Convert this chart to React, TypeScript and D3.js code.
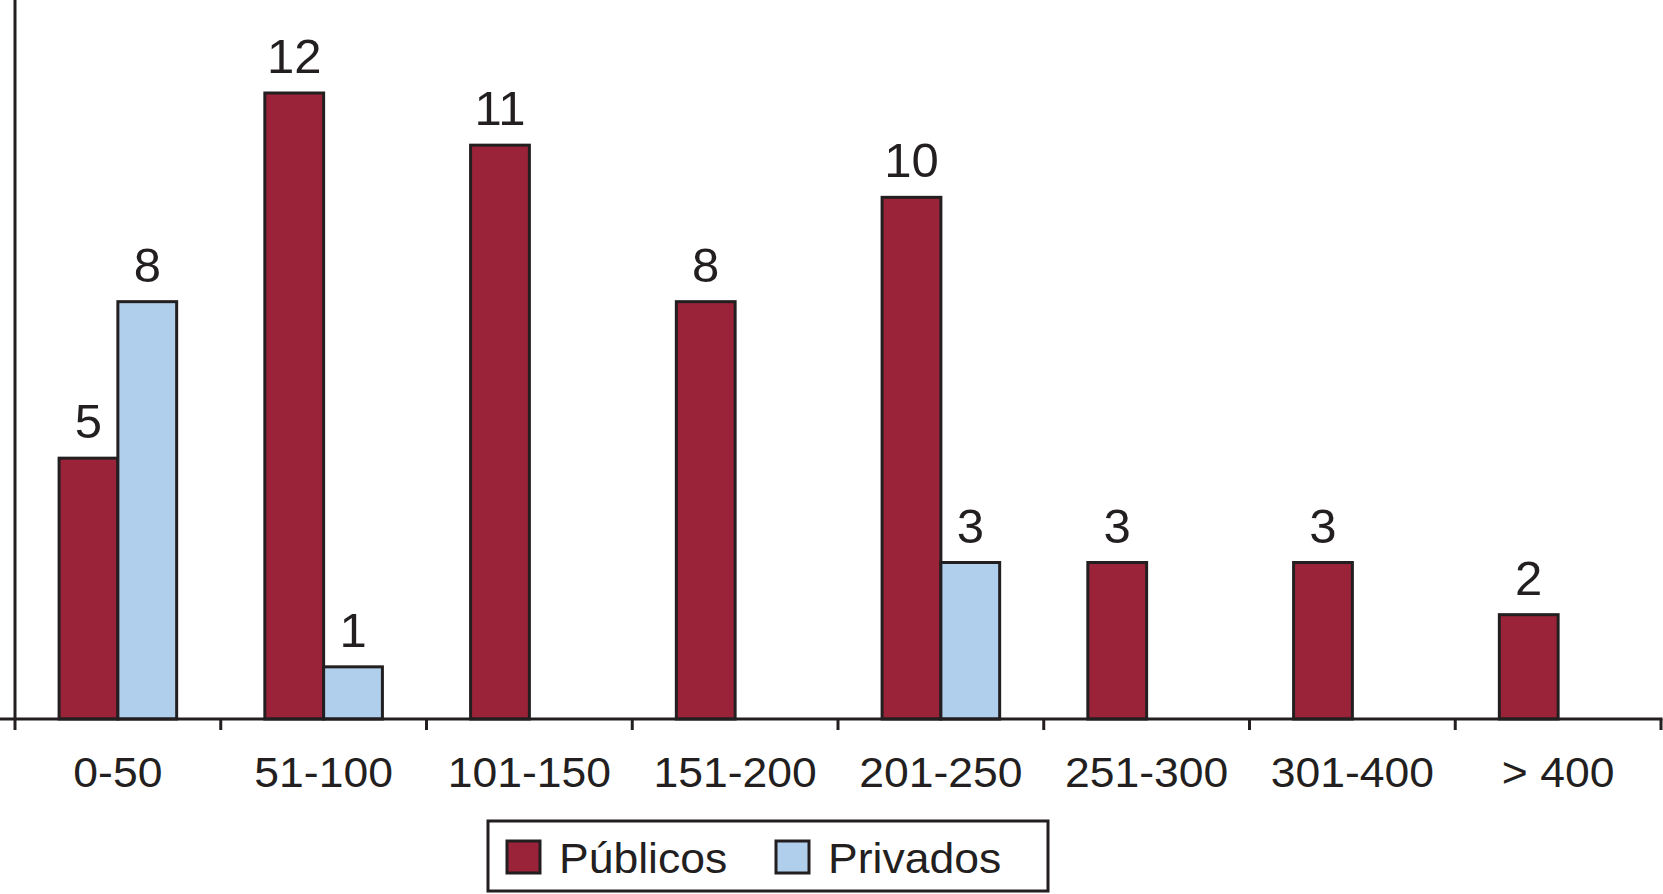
import React from 'react';
import * as d3 from 'd3';

const categories = ['0-50', '51-100', '101-150', '151-200', '201-250', '251-300', '301-400', '> 400'];
const publicos = [5, 12, 11, 8, 10, 3, 3, 2];
const privados = [8, 1, 0, 0, 3, 0, 0, 0];
const seriesNames = ['Públicos', 'Privados'];

const W = 1663;
const H = 894;
const colors = ['#9b2339', '#afcfec'];
const ink = '#231f20';
const font = '"Liberation Sans", Arial, Helvetica, sans-serif';

// text of axis/legend is slightly wider than plain Arial in the source
function WideText(props: { x: number; y: number; anchor?: string; children: React.ReactNode }) {
  return (
    <text
      transform={`translate(${props.x},${props.y}) scale(1.06,1)`}
      textAnchor={props.anchor || 'start'}
      fontFamily={font}
      fontSize={42}
      fill={ink}
    >
      {props.children}
    </text>
  );
}

export default function App() {
  const left = 15;
  const right = 1661;
  const baseY = 719;

  const x = d3.scaleBand().domain(categories).range([left, right]).paddingInner(0).paddingOuter(0);
  // gap width 150% -> each bar is band / 3.5
  const barW = x.bandwidth() / 3.5;
  const y = d3.scaleLinear().domain([0, 12]).range([baseY, 93]);

  const series = [publicos, privados];

  return (
    <svg width={W} height={H} style={{ position: 'absolute', left: 0, top: 0, background: '#fff' }}>
      {/* bars */}
      {categories.map((c, i) => {
        const cx = (x(c) as number) + x.bandwidth() / 2;
        return (
          <g key={c}>
            {series.map((s, k) => {
              const v = s[i];
              if (!v) return null;
              const bx = cx - barW + k * barW;
              return (
                <g key={k}>
                  <rect
                    x={bx}
                    y={y(v)}
                    width={barW}
                    height={baseY - y(v)}
                    fill={colors[k]}
                    stroke={ink}
                    strokeWidth={3}
                  />
                  <text
                    x={bx + barW / 2}
                    y={y(v) - 20}
                    textAnchor="middle"
                    fontFamily={font}
                    fontSize={49}
                    fill={ink}
                  >
                    {v}
                  </text>
                </g>
              );
            })}
          </g>
        );
      })}

      {/* axes */}
      <line x1={left} x2={left} y1={0} y2={baseY} stroke={ink} strokeWidth={3} />
      <line x1={0} x2={right + 1.5} y1={baseY} y2={baseY} stroke={ink} strokeWidth={3} />
      {d3.range(categories.length + 1).map(i => {
        const tx = left + i * x.step();
        return <line key={i} x1={tx} x2={tx} y1={baseY} y2={baseY + 11} stroke={ink} strokeWidth={3} />;
      })}
      {categories.map(c => (
        <WideText key={c} x={(x(c) as number) + x.bandwidth() / 2} y={787} anchor="middle">
          {c}
        </WideText>
      ))}

      {/* legend */}
      <rect x={488} y={821} width={560} height={70} fill="#fff" stroke={ink} strokeWidth={3} />
      {seriesNames.map((name, k) => {
        const lx = k === 0 ? 507 : 776;
        return (
          <g key={name}>
            <rect x={lx} y={841} width={33} height={32} fill={colors[k]} stroke={ink} strokeWidth={3} />
            <WideText x={lx + 52} y={873}>
              {name}
            </WideText>
          </g>
        );
      })}
    </svg>
  );
}
